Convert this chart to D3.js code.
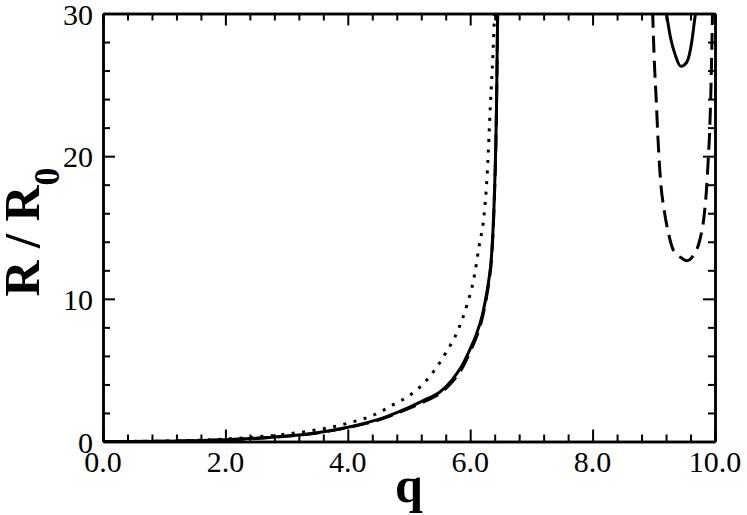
<!DOCTYPE html>
<html>
<head>
<meta charset="utf-8">
<script src="https://cdn.jsdelivr.net/npm/d3@7"></script>
<style>
  body { margin: 0; background: #fff; }
  svg { display: block; }
  text { font-family: "Liberation Serif", "Times New Roman", serif; fill: #000; }
</style>
</head>
<body>
<svg id="chart" width="747" height="515"></svg>
<script>
/* global d3 */

// Tick labels
const xTicks = [0, 2, 4, 6, 8, 10];
const yTicks = [0, 10, 20, 30];

// Solid curve (low branch + upper loop)
const solidQ = [0, 0.5, 1.0, 1.5, 2.0, 2.5, 3.0, 3.5, 4.0, 4.5, 5.0, 5.3, 5.5, 5.7, 5.85, 6.0, 6.1, 6.2, 6.27, 6.3, 6.35, 6.39, 6.43, 6.45];
const solidR = [0, 0.005, 0.02, 0.06, 0.12, 0.22, 0.38, 0.62, 1.0, 1.55, 2.4, 3.0, 3.45, 4.3, 5.2, 6.5, 7.5, 8.9, 10.4, 11.2, 13.1, 16.6, 23.6, 30.5];
const solidUQ = [9.20, 9.276, 9.35, 9.44, 9.54, 9.62, 9.67, 9.70];
const solidUR = [30.2, 28.25, 27.1, 26.3, 26.6, 28.0, 29.65, 30.5];

// Dashed curve
const dashQ = [0, 0.5, 1.0, 1.5, 2.0, 2.5, 3.0, 3.5, 4.0, 4.5, 5.0, 5.3, 5.5, 5.7, 5.85, 6.0, 6.1, 6.2, 6.27, 6.3, 6.35, 6.39, 6.43, 6.45];
const dashR = [0, 0.005, 0.02, 0.06, 0.12, 0.21, 0.37, 0.6, 0.97, 1.5, 2.32, 2.9, 3.35, 4.15, 5.0, 6.3, 7.3, 8.7, 10.2, 11.0, 12.9, 16.4, 23.4, 30.5];
const dashUQ = [8.98, 9.01, 9.04, 9.07, 9.11, 9.17, 9.24, 9.32, 9.46, 9.54, 9.65, 9.75, 9.82, 9.86, 9.89, 9.915, 9.935, 9.96];
const dashUR = [30.2, 26.5, 23.9, 21.1, 18.3, 16.2, 14.6, 13.4, 12.84, 12.67, 13.07, 14.1, 15.75, 17.6, 19.8, 22.0, 25.0, 30.2];

// Dotted curve
const dotQ = [0, 1.0, 2.0, 2.5, 3.0, 3.5, 4.0, 4.5, 4.75, 5.0, 5.2, 5.4, 5.6, 5.8, 5.95, 6.05, 6.15, 6.22, 6.28, 6.33, 6.37, 6.40];
const dotR = [0, 0.03, 0.17, 0.32, 0.52, 0.82, 1.28, 2.0, 2.6, 3.2, 3.9, 4.9, 6.2, 7.8, 9.6, 11.2, 13.8, 15.6, 18.9, 23.6, 27.0, 30.2];

const svg = d3.select('#chart');
const plotLeft = 103;
const plotRight = 715;
const plotTop = 13.5;
const plotBottom = 441.5;

const x = d3.scaleLinear().domain([0, 10]).range([plotLeft, plotRight]);
const y = d3.scaleLinear().domain([0, 30]).range([plotBottom, plotTop]);

const minorX = d3.range(0, 10.001, 0.4).filter(v => Math.abs(v / 2 - Math.round(v / 2)) > 1e-6);
const minorY = d3.range(0, 30.001, 2).filter(v => v % 10 !== 0);

svg.append('defs').append('clipPath').attr('id', 'plot-clip')
  .append('rect')
  .attr('x', plotLeft).attr('y', plotTop)
  .attr('width', plotRight - plotLeft).attr('height', plotBottom - plotTop);

// curves
const line = d3.line()
  .x(d => x(d[0]))
  .y(d => y(d[1]))
  .curve(d3.curveMonotoneX);
const zip = (a, b) => a.map((v, i) => [v, b[i]]);

const curves = svg.append('g').attr('clip-path', 'url(#plot-clip)')
  .attr('fill', 'none').attr('stroke', '#000');

curves.append('path').attr('d', line(zip(dotQ, dotR)))
  .attr('stroke-width', 3).attr('stroke-dasharray', '3,7.5');
curves.append('path').attr('d', line(zip(dashQ, dashR)))
  .attr('stroke-width', 3).attr('stroke-dasharray', '17,8');
curves.append('path').attr('d', line(zip(dashUQ, dashUR)))
  .attr('stroke-width', 3).attr('stroke-dasharray', '17,8');
curves.append('path').attr('d', line(zip(solidQ, solidR)))
  .attr('stroke-width', 3);
curves.append('path').attr('d', line(zip(solidUQ, solidUR)))
  .attr('stroke-width', 3);

// axes: ticks inward on all four sides
function styleAxis(g) {
  g.selectAll('.domain').attr('stroke', '#000').attr('stroke-width', 2.5);
  g.selectAll('.tick line').attr('stroke', '#000').attr('stroke-width', 2);
  g.selectAll('.tick text').remove();
}
const axes = [
  [d3.axisBottom(x).tickValues(xTicks).tickSize(-12), `translate(0,${plotBottom})`],
  [d3.axisBottom(x).tickValues(minorX).tickSize(-7), `translate(0,${plotBottom})`],
  [d3.axisTop(x).tickValues(xTicks).tickSize(-12), `translate(0,${plotTop})`],
  [d3.axisTop(x).tickValues(minorX).tickSize(-7), `translate(0,${plotTop})`],
  [d3.axisLeft(y).tickValues(yTicks).tickSize(-12), `translate(${plotLeft},0)`],
  [d3.axisLeft(y).tickValues(minorY).tickSize(-7), `translate(${plotLeft},0)`],
  [d3.axisRight(y).tickValues(yTicks).tickSize(-12), `translate(${plotRight},0)`],
  [d3.axisRight(y).tickValues(minorY).tickSize(-7), `translate(${plotRight},0)`],
];
axes.forEach(([axis, tr]) => {
  svg.append('g').attr('transform', tr)
    .call(axis.tickSizeOuter(0))
    .call(styleAxis);
});

// tick labels
svg.append('g').selectAll('text').data(xTicks).enter()
  .append('text')
  .attr('x', d => x(d))
  .attr('y', 472)
  .attr('text-anchor', 'middle')
  .style('font-size', '30px')
  .text(d => d.toFixed(1));
svg.append('g').selectAll('text').data(yTicks).enter()
  .append('text')
  .attr('x', 93)
  .attr('y', d => y(d) + 11)
  .attr('text-anchor', 'end')
  .style('font-size', '30px')
  .text(d => d);

// axis titles
svg.append('text')
  .attr('x', (plotLeft + plotRight) / 2)
  .attr('y', 502)
  .attr('text-anchor', 'middle')
  .style('font-size', '50px')
  .style('font-weight', 'bold')
  .text('q');
const yTitle = svg.append('text')
  .attr('transform', 'translate(39,232) rotate(-90)')
  .attr('text-anchor', 'middle')
  .style('font-size', '50px')
  .style('font-weight', 'bold');
yTitle.append('tspan').text('R / R');
yTitle.append('tspan').attr('dy', 20).style('font-size', '36px').text('0');
</script>
</body>
</html>
